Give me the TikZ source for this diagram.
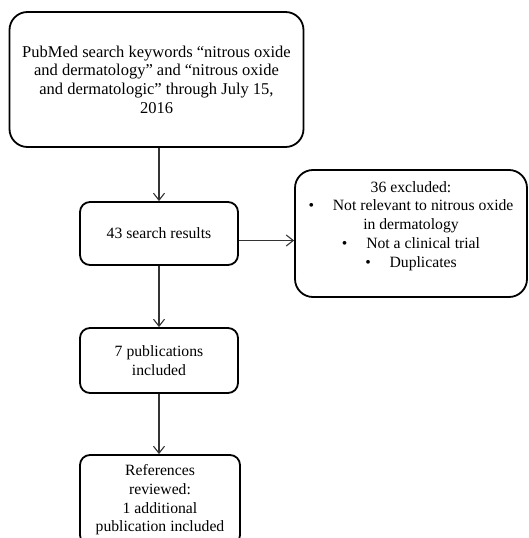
\documentclass[tikz,border=0pt]{standalone}
\usepackage{fontspec}
\setmainfont{Liberation Serif}
\usetikzlibrary{arrows.meta}

\tikzset{
    stage/.style={draw, line width=1.8pt, rounded corners=10pt, align=center,
        inner sep=0pt, font=\fontsize{15.7}{18.7}\selectfont},
    bigstage/.style={stage, rounded corners=18pt},
    flow/.style={draw=black!80, line width=1.1pt,
        -{Straight Barb[length=7pt,width=11pt,line width=1.1pt]}}
}

\begin{document}
\begin{tikzpicture}[x=1pt, y=-1pt]
    % Fix the page size
    \useasboundingbox (0,0) rectangle (528,538);
    \clip (0,0) rectangle (528,538);

    % Draw the search box
    \node[bigstage, minimum width=294pt, minimum height=135pt,
          font=\fontsize{16.5}{18.6}\selectfont] (search) at (156.5,79.5)
        {PubMed search keywords “nitrous oxide\\
         and dermatology” and “nitrous oxide\\
         and dermatologic” through July 15,\\
         2016};

    % Draw the main column
    \node[stage, minimum width=158pt, minimum height=63pt] (results) at (159,233.5)
        {43 search results};
    \node[stage, minimum width=158pt, minimum height=65pt] (included) at (159,360.5)
        {7 publications\\ included};
    \node[stage, minimum width=160pt, minimum height=90pt] (refs) at (160,500)
        {References\\ reviewed:\\ 1 additional\\ publication included};

    % Draw the excluded box
    \node[bigstage, minimum width=232pt, minimum height=127pt] (excluded) at (411,233.5)
        {36 excluded:\\
         •\hspace{1.2em}Not relevant to nitrous oxide\\
         in dermatology\\
         •\hspace{1.2em}Not a clinical trial\\
         •\hspace{1.2em}Duplicates\\ \mbox{}};

    % Add arrows
    \coordinate (split) at ([yshift=-7pt]results.east);
    \draw[flow] (search.south -| results.north) -- (results.north);
    \draw[flow] (split) -- (split -| excluded.west);
    \draw[flow] (results.south) -- (included.north);
    \draw[flow] (included.south) -- (refs.north -| included.south);

\end{tikzpicture}
\end{document}
